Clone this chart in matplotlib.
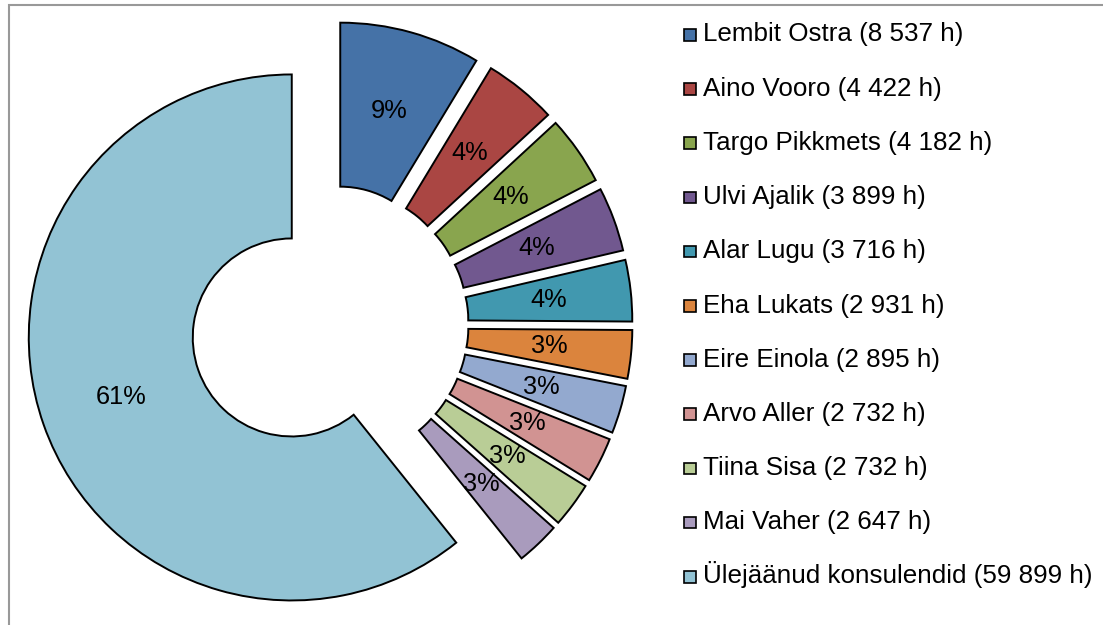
import matplotlib
matplotlib.use("Agg")
import matplotlib.pyplot as plt
from matplotlib.patches import Rectangle

names = ["Lembit Ostra", "Aino Vooro", "Targo Pikkmets", "Ulvi Ajalik", "Alar Lugu",
         "Eha Lukats", "Eire Einola", "Arvo Aller", "Tiina Sisa", "Mai Vaher",
         "Ülejäänud konsulendid"]
hours = [8537, 4422, 4182, 3899, 3716, 2931, 2895, 2732, 2732, 2647, 59899]
colors = ["#4572A7", "#AA4643", "#89A54E", "#71588F", "#4198AF", "#DB843D",
          "#93A9CF", "#D19392", "#B9CD96", "#A99BBD", "#92C3D4"]

plt.rcParams['font.family'] = ['Liberation Sans', 'DejaVu Sans']

W, H = 1103, 625
fig = plt.figure(figsize=(W / 100, H / 100), dpi=100)
ax = fig.add_axes([0, 0, 1, 1])

R = 263
inner = 99
cx, cy = 329.5, H - 324.2
ax.pie(hours, explode=[40] * len(hours), colors=colors, startangle=90,
       counterclock=False, radius=R, center=(cx, cy),
       wedgeprops=dict(width=R - inner, edgecolor='black', linewidth=1.4),
       autopct='%.0f%%', pctdistance=(R + inner) / 2 / R,
       textprops=dict(fontsize=18.3, color='black'))

ax.set_xlim(0, W)
ax.set_ylim(0, H)
ax.set_aspect('auto')
ax.axis('off')

# chart border
ax.add_patch(Rectangle((9, -10), W + 20, H - 5 + 10, fill=False,
                       edgecolor='#999999', linewidth=1.5, clip_on=False))

# legend
for i, (n, h, c) in enumerate(zip(names, hours, colors)):
    base = 41.5 + 54.2 * i
    ax.add_patch(Rectangle((683.5, H - (base - 1)), 12, 11.5,
                           facecolor=c, edgecolor='black', linewidth=1.2))
    label = f"{n} ({h:,} h)".replace(',', ' ')
    ax.text(703, H - base, label, fontsize=18.7, va='baseline', ha='left',
            color='black')

fig.savefig("out.png", dpi=100)
